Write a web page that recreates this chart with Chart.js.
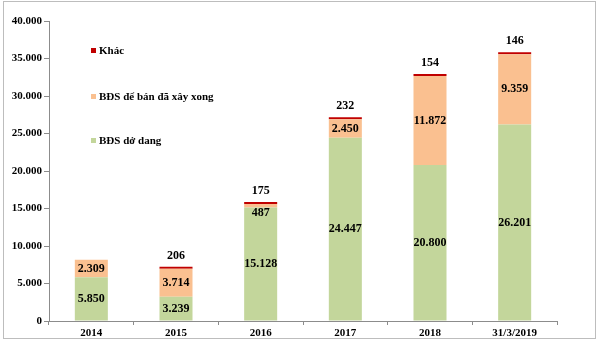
<!DOCTYPE html>
<html>
<head>
<meta charset="utf-8">
<script src="https://cdn.jsdelivr.net/npm/chart.js@4"></script>
<style>
html,body{margin:0;padding:0;background:#fff;}
#wrap{position:relative;width:600px;height:343px;}
#frame{position:absolute;left:3px;top:1px;width:593px;height:338px;border:1px solid #bdbdbd;box-sizing:border-box;pointer-events:none;}
</style>
</head>
<body>
<div id="wrap"><canvas id="c" width="600" height="343"></canvas><div id="frame"></div></div>
<script>
const categories = ["2014", "2015", "2016", "2017", "2018", "31/3/2019"];
const dangDo = [5850, 3239, 15128, 24447, 20800, 26201];
const daXayXong = [2309, 3714, 487, 2450, 11872, 9359];
const khac = [null, 206, 175, 232, 154, 146];
const yTicks = [0, 5000, 10000, 15000, 20000, 25000, 30000, 35000, 40000];
const seriesNames = ["BĐS dở dang", "BĐS để bán đã xây xong", "Khác"];

const fmt = v => String(Math.round(v)).replace(/\B(?=(\d{3})+(?!\d))/g, ".");
const FONT = "'Liberation Serif', 'Times New Roman', serif";

const labelPlugin = {
  id: 'labels',
  afterDatasetsDraw(chart) {
    const ctx = chart.ctx;
    ctx.save();
    ctx.font = "bold 12px " + FONT;
    ctx.fillStyle = "#000";
    ctx.textAlign = "center";
    ctx.textBaseline = "middle";
    chart.data.datasets.forEach((ds, di) => {
      const meta = chart.getDatasetMeta(di);
      meta.data.forEach((bar, i) => {
        const v = ds.data[i];
        if (v == null) return;
        const top = Math.min(bar.y, bar.base);
        const bot = Math.max(bar.y, bar.base);
        let y;
        if (di === 2) {
          y = top - 11;
        } else {
          y = Math.max((top + bot) / 2, top + 9);
        }
        ctx.fillText(fmt(v), bar.x, y);
      });
    });
    // legend
    const items = [[2, 51], [1, 97], [0, 141]];
    ctx.textAlign = "left";
    ctx.font = "bold 11px " + FONT;
    items.forEach(([di, y]) => {
      const ds = chart.data.datasets[di];
      ctx.fillStyle = ds.backgroundColor;
      ctx.fillRect(91, y - 3, 5, 5);
      ctx.fillStyle = "#000";
      ctx.fillText(ds.label, 99, y);
    });
    ctx.restore();
  }
};

new Chart(document.getElementById('c'), {
  type: 'bar',
  data: {
    labels: categories,
    datasets: [
      { label: seriesNames[0], data: dangDo, backgroundColor: "#C3D69B" },
      { label: seriesNames[1], data: daXayXong, backgroundColor: "#FAC090" },
      { label: seriesNames[2], data: khac, backgroundColor: "#C00000", minBarLength: 2 }
    ]
  },
  options: {
    responsive: false,
    animation: false,
    datasets: { bar: { categoryPercentage: 1, barPercentage: 0.39 } },
    layout: { padding: { left: 0, right: 43, top: 21, bottom: 0 } },
    plugins: { legend: { display: false }, tooltip: { enabled: false } },
    scales: {
      x: {
        stacked: true,
        offset: true,
        grid: { offset: true, drawOnChartArea: false, drawTicks: true, tickLength: 4, color: "#8c8c8c" },
        border: { color: "#8c8c8c" },
        ticks: { color: "#000", font: { family: FONT, size: 11, weight: 'bold' }, padding: 2, maxRotation: 0 },
        afterFit(s) { s.height = 22; }
      },
      y: {
        stacked: true,
        min: 0, max: 40000,
        afterBuildTicks(s) { s.ticks = yTicks.map(v => ({ value: v })); },
        grid: { drawOnChartArea: false, drawTicks: true, tickLength: 5, color: "#8c8c8c" },
        border: { color: "#8c8c8c" },
        ticks: { color: "#000", font: { family: FONT, size: 11, weight: 'bold' }, padding: 2, callback: v => fmt(v) },
        afterFit(s) { s.width = 49; }
      }
    }
  },
  plugins: [labelPlugin]
});
</script>
</body>
</html>
